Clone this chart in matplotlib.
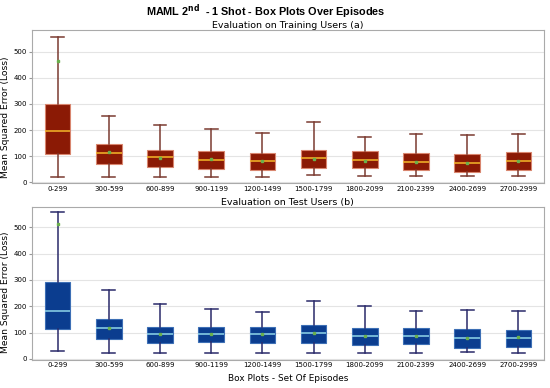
import matplotlib.pyplot as plt
import numpy as np

episodes = ["0-299", "300-599", "600-899", "900-1199", "1200-1499",
            "1500-1799", "1800-2099", "2100-2399", "2400-2699", "2700-2999"]

# training users: whisker low, q1, median, q3, whisker high, mean
train_low = [22, 22, 22, 22, 22, 27, 24, 24, 24, 25]
train_q1 = [110, 72, 60, 52, 46, 53, 56, 48, 40, 49]
train_med = [195, 112, 97, 87, 80, 92, 86, 77, 73, 81]
train_q3 = [300, 148, 125, 118, 113, 125, 120, 113, 108, 115]
train_high = [555, 253, 218, 205, 190, 229, 173, 184, 180, 185]
train_mean = [465, 115, 95, 88, 82, 90, 83, 78, 75, 82]

# test users
test_low = [29, 23, 24, 21, 24, 21, 21, 24, 27, 23]
test_q1 = [112, 77, 62, 64, 60, 59, 54, 56, 41, 46]
test_med = [181, 118, 96, 96, 96, 100, 88, 86, 79, 81]
test_q3 = [294, 153, 123, 123, 122, 128, 118, 119, 112, 109]
test_high = [558, 262, 208, 188, 177, 221, 201, 181, 186, 183]
test_mean = [512, 118, 95, 95, 95, 98, 88, 88, 80, 83]


def make_stats(low, q1, med, q3, high, mean):
    stats = []
    for i in range(len(episodes)):
        stats.append({"whislo": low[i], "q1": q1[i], "med": med[i], "q3": q3[i],
                      "whishi": high[i], "mean": mean[i], "fliers": []})
    return stats


def draw(ax, stats, face, edge, median, whisker, title, label_y):
    ax.bxp(stats, positions=np.arange(len(stats)), widths=0.5, patch_artist=True,
           showmeans=True, showfliers=False,
           boxprops=dict(facecolor=face, edgecolor=edge, linewidth=0.8),
           medianprops=dict(color=median, linewidth=1.1),
           whiskerprops=dict(color=whisker, linewidth=1.1),
           capprops=dict(color=whisker, linewidth=1.1),
           meanprops=dict(marker="s", markersize=1.8, markerfacecolor="#6ab04c",
                          markeredgecolor="#6ab04c"))
    ax.set_xticks(np.arange(len(stats)))
    ax.set_xticklabels(episodes, fontsize=5.0, color="black")
    ax.set_xlim(-0.5, len(stats) - 0.5)
    ax.set_yticks([0, 100, 200, 300, 400, 500])
    ax.tick_params(axis="y", labelsize=5.0, labelcolor="black", length=2, pad=1.5,
                   color="#999999")
    ax.tick_params(axis="x", length=0, pad=2)
    ax.yaxis.grid(True, color="#e4e4e4", linewidth=0.8)
    ax.set_axisbelow(True)
    for s in ax.spines.values():
        s.set_color("#aaaaaa")
    ax.set_ylabel("Mean Squared Error (Loss)", fontsize=6.6)
    ax.yaxis.set_label_coords(-0.043, label_y)
    ax.set_title(title, fontsize=6.8, pad=1.5)


fig = plt.figure(figsize=(5.5, 3.88), dpi=100)
ax1 = fig.add_axes([0.058, 0.528, 0.931, 0.395])
ax2 = fig.add_axes([0.058, 0.073, 0.931, 0.394])

draw(ax1, make_stats(train_low, train_q1, train_med, train_q3, train_high, train_mean),
     "#8b1a05", "#d9866f", "#f5b82a", "#7a3a30", "Evaluation on Training Users (a)", 0.43)
ax1.set_ylim(-3, 583)

draw(ax2, make_stats(test_low, test_q1, test_med, test_q3, test_high, test_mean),
     "#0b3d8f", "#3d6fb5", "#8fd6ea", "#2a2a6a", "Evaluation on Test Users (b)", 0.44)
ax2.set_ylim(-3, 578)
ax2.set_xlabel("Box Plots - Set Of Episodes", fontsize=6.4, labelpad=4)

fig.suptitle(r"MAML 2$^{\mathbf{nd}}$  - 1 Shot - Box Plots Over Episodes",
             fontsize=7.8, fontweight="bold", family="Liberation Sans",
             x=0.483, y=0.995)

fig.savefig("out.png", dpi=100)
